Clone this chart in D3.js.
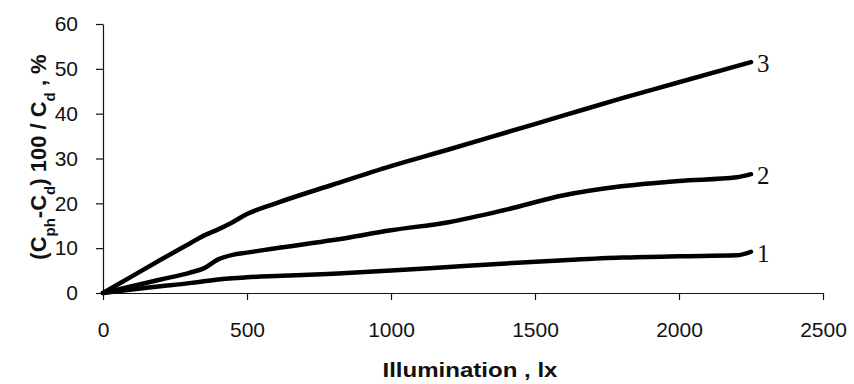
<!DOCTYPE html>
<html>
<head>
<meta charset="utf-8">
<script src="https://cdn.jsdelivr.net/npm/d3@7"></script>
<style>
  body { margin: 0; background: #fff; }
  svg { display: block; }
</style>
</head>
<body>
<div id="chart"></div>
<script>
const illumination = [0, 100, 200, 300, 350, 400, 450, 500, 600, 800, 1000, 1200, 1400, 1600, 1800, 2000, 2200, 2250]

const curve1 = [0, 0.8, 1.5, 2.2, 2.6, 3.0, 3.3, 3.5, 3.8, 4.3, 5.0, 5.8, 6.6, 7.3, 7.9, 8.2, 8.4, 9.2]
const curve2 = [0, 1.5, 3.0, 4.5, 5.5, 7.5, 8.5, 9.0, 10.0, 11.8, 14.0, 15.8, 18.6, 21.8, 23.8, 25.0, 25.8, 26.5]
const curve3 = [0, 3.7, 7.4, 11.0, 12.8, 14.2, 15.8, 17.6, 20.0, 24.2, 28.3, 32.0, 35.8, 39.6, 43.4, 47.0, 50.6, 51.5]

const seriesNames = ["1", "2", "3"]
const xTicks = [0, 500, 1000, 1500, 2000, 2500]
const yTicks = [0, 10, 20, 30, 40, 50, 60]

const width = 854
const height = 384
const margin = { top: 24, right: 31, bottom: 91, left: 103 }

const svg = d3.select("#chart").append("svg")
  .attr("width", width)
  .attr("height", height)

const x = d3.scaleLinear()
  .domain([0, 2500])
  .range([margin.left, width - margin.right])

const y = d3.scaleLinear()
  .domain([0, 60])
  .range([height - margin.bottom, margin.top])

/* axes */
const xAxis = svg.append("g")
  .attr("transform", `translate(0,${height - margin.bottom})`)
  .call(d3.axisBottom(x).tickValues(xTicks).tickFormat(d3.format("d"))
    .tickSize(7).tickSizeOuter(0).tickPadding(22))

const yAxis = svg.append("g")
  .attr("transform", `translate(${margin.left},0)`)
  .call(d3.axisLeft(y).tickValues(yTicks).tickFormat(d3.format("d"))
    .tickSize(7).tickSizeOuter(0).tickPadding(18))

for (const ax of [xAxis, yAxis]) {
  ax.selectAll("path, line").attr("stroke", "#111").attr("stroke-width", 1.2)
  ax.selectAll("text")
    .attr("fill", "#111")
    .style("font-family", "'Liberation Sans', Arial, sans-serif")
    .style("font-size", "21px")
}

/* curves */
const series = [curve1, curve2, curve3].map((vals, i) => ({
  name: seriesNames[i],
  points: illumination.map((v, j) => [v, vals[j]])
}))

const line = d3.line()
  .x(d => x(d[0]))
  .y(d => y(d[1]))
  .curve(d3.curveMonotoneX)

svg.append("g")
  .selectAll("path")
  .data(series)
  .join("path")
  .attr("d", d => line(d.points))
  .attr("fill", "none")
  .attr("stroke", "#000")
  .attr("stroke-width", 4.5)
  .attr("stroke-linecap", "round")
  .attr("stroke-linejoin", "round")

/* curve numbers at the ends */
svg.append("g")
  .selectAll("text")
  .data(series)
  .join("text")
  .attr("x", d => x(d.points[d.points.length - 1][0]) + 6)
  .attr("y", d => y(d.points[d.points.length - 1][1]) + 10)
  .text(d => d.name)
  .style("font-family", "'Liberation Serif', 'Times New Roman', serif")
  .style("font-size", "25px")
  .attr("fill", "#111")

/* axis titles */
svg.append("text")
  .attr("x", 470)
  .attr("y", 377)
  .attr("text-anchor", "middle")
  .attr("textLength", 175)
  .attr("lengthAdjust", "spacingAndGlyphs")
  .style("font-family", "'Liberation Sans', Arial, sans-serif")
  .style("font-weight", "bold")
  .style("font-size", "21px")
  .attr("fill", "#111")
  .text("Illumination , lx")

const yTitle = svg.append("text")
  .attr("transform", "translate(46,157) rotate(-90)")
  .attr("text-anchor", "middle")
  .style("font-family", "'Liberation Sans', Arial, sans-serif")
  .style("font-weight", "bold")
  .style("font-size", "22px")
  .attr("fill", "#111")

const yParts = [
  ["(C", false], ["ph", true], ["-C", false], ["d", true],
  [") 100 / C", false], ["d", true], [" , %", false]
]
for (const [t, sub] of yParts) {
  const span = yTitle.append("tspan").text(t)
  if (sub) {
    span.attr("baseline-shift", "sub").style("font-size", "15px")
  }
}
</script>
</body>
</html>
